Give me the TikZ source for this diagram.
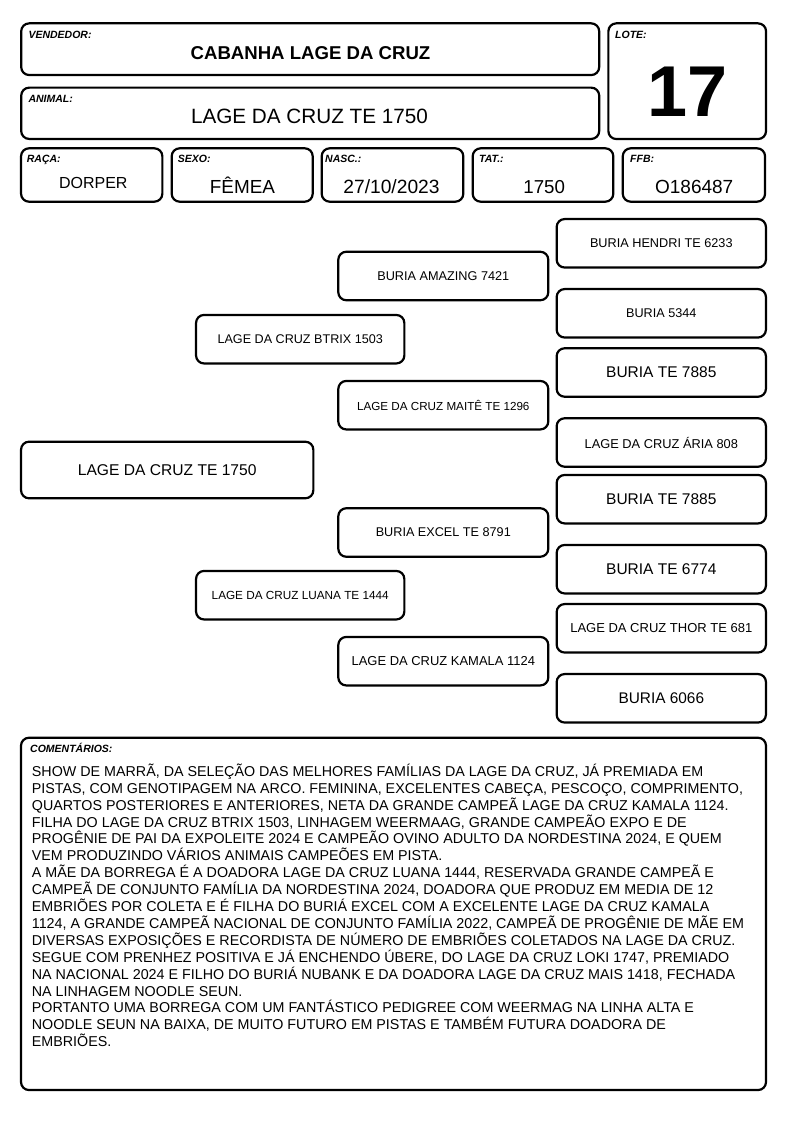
\documentclass[tikz,border=0pt]{standalone}
\usepackage{fontspec}
\setmainfont{Liberation Sans}
\newcommand{\fsz}[1]{\fontsize{#1}{#1}\selectfont}

\begin{document}
\begin{tikzpicture}[x=1pt,y=-1pt,
		frame/.style={draw,line width=2.2pt,rounded corners=8pt,inner sep=0pt,outer sep=0pt},
		ped/.style={frame,minimum height=48.5pt},
		tag/.style={anchor=base west,inner sep=0pt,font=\bfseries\itshape\fsz{10.5}},
		val/.style={anchor=base,inner sep=0pt}]
		\useasboundingbox (0,0) rectangle (794,1123);
		% header
		\node[frame,minimum width=578pt,minimum height=51.7pt] (vend) at (310.2,49.2) {};
		\node[frame,minimum width=578pt,minimum height=51.3pt] (anim) at (310.2,113.3) {};
		\node[frame,minimum width=157.7pt,minimum height=115.7pt] (lote) at (687.2,81.2) {};
		\node[tag] (tvend) at (28.3,39) {VENDEDOR:};
		\node[tag] (tanim) at (28.3,102.5) {ANIMAL:};
		\node[tag] (tlote) at (615,39) {LOTE:};
		\node[val,font=\bfseries\fsz{18.6}] (vvend) at (310.5,60) {CABANHA LAGE DA CRUZ};
		\node[val,font=\fsz{20.7}] (vanim) at (309.5,123.3) {LAGE DA CRUZ TE 1750};
		\node[val,font=\bfseries\fsz{72}] (vlote) at (687.5,116.7) {17};
		% dados
		\node[frame,minimum width=141.3pt,minimum height=53.4pt] (raca) at (91.7,175) {};
		\node[frame,minimum width=141pt,minimum height=53.4pt] (sexo) at (242.2,175) {};
		\node[frame,minimum width=141.6pt,minimum height=53.4pt] (nasc) at (392.5,175) {};
		\node[frame,minimum width=140.6pt,minimum height=53.4pt] (tat) at (543,175) {};
		\node[frame,minimum width=142.3pt,minimum height=53.4pt] (ffb) at (693.9,175) {};
		\node[tag] (traca) at (26.7,162.7) {RAÇA:};
		\node[tag] (tsexo) at (177.7,162.7) {SEXO:};
		\node[tag] (tnasc) at (325,162.7) {NASC.:};
		\node[tag] (ttat) at (479,162.7) {TAT.:};
		\node[tag] (tffb) at (630,162.7) {FFB:};
		\node[val,font=\fsz{16}] (vraca) at (93.3,188.3) {DORPER};
		\node[val,font=\fsz{18.9}] (vsexo) at (242.5,193.3) {FÊMEA};
		\node[val,font=\fsz{19.2}] (vnasc) at (391.5,193.3) {27/10/2023};
		\node[val,font=\fsz{18.7}] (vtat) at (544.2,193.3) {1750};
		\node[val,font=\fsz{19}] (vffb) at (694.2,193.3) {O186487};
		% pedigree
		\node[ped,minimum width=292.3pt,minimum height=56.6pt,font=\fsz{15.6}] (anim0) at (167.2,470) {LAGE DA CRUZ TE 1750};
		\node[ped,minimum width=208.3pt,font=\fsz{12.6}] (sire) at (300.2,339.2) {LAGE DA CRUZ BTRIX 1503};
		\node[ped,minimum width=208.3pt,font=\fsz{11.75}] (dam) at (300.2,595.2) {LAGE DA CRUZ LUANA TE 1444};
		\node[ped,minimum width=210pt,font=\fsz{12.7}] (ss) at (443.3,276) {BURIA AMAZING 7421};
		\node[ped,minimum width=210pt,font=\fsz{11.66}] (sd) at (443.3,405.2) {LAGE DA CRUZ MAITÊ TE 1296};
		\node[ped,minimum width=210pt,font=\fsz{12.65}] (ds) at (443.3,532.5) {BURIA EXCEL TE 8791};
		\node[ped,minimum width=210pt,font=\fsz{12.96}] (dd) at (443.3,661.2) {LAGE DA CRUZ KAMALA 1124};
		\node[ped,minimum width=209.3pt,font=\fsz{12.7}] (sss) at (661.3,243.3) {BURIA HENDRI TE 6233};
		\node[ped,minimum width=209.3pt,font=\fsz{12.65}] (ssd) at (661.3,313.3) {BURIA 5344};
		\node[ped,minimum width=209.3pt,font=\fsz{15.5}] (sds) at (661.3,372.5) {BURIA TE 7885};
		\node[ped,minimum width=209.3pt,font=\fsz{12.83}] (sdd) at (661.3,442.5) {LAGE DA CRUZ ÁRIA 808};
		\node[ped,minimum width=209.3pt,font=\fsz{15.5}] (dss) at (661.3,499.2) {BURIA TE 7885};
		\node[ped,minimum width=209.3pt,font=\fsz{15.5}] (dsd) at (661.3,569.2) {BURIA TE 6774};
		\node[ped,minimum width=209.3pt,font=\fsz{13}] (dds) at (661.3,628.3) {LAGE DA CRUZ THOR TE 681};
		\node[ped,minimum width=209.3pt,font=\fsz{15.4}] (ddd) at (661.3,698.3) {BURIA 6066};
		% comentarios (base = ultima linha)
		\node[frame,minimum width=745pt,minimum height=352.3pt] (coment) at (393.5,913.9) {};
		\node[tag] (tcoment) at (30,752.3) {COMENTÁRIOS:};
		\node[anchor=base west,inner sep=0pt,align=left,font=\fontsize{14.3}{16.9}\selectfont] (vcoment) at (31.7,1046.7)
		{SHOW DE MARRÃ, DA SELEÇÃO DAS MELHORES FAMÍLIAS DA LAGE DA CRUZ, JÁ PREMIADA EM\\
		PISTAS, COM GENOTIPAGEM NA ARCO. FEMININA, EXCELENTES CABEÇA, PESCOÇO, COMPRIMENTO,\\
		QUARTOS POSTERIORES E ANTERIORES, NETA DA GRANDE CAMPEÃ LAGE DA CRUZ KAMALA 1124.\\
		FILHA DO LAGE DA CRUZ BTRIX 1503, LINHAGEM WEERMAAG, GRANDE CAMPEÃO EXPO E DE\\
		PROGÊNIE DE PAI DA EXPOLEITE 2024 E CAMPEÃO OVINO ADULTO DA NORDESTINA 2024, E QUEM\\
		VEM PRODUZINDO VÁRIOS ANIMAIS CAMPEÕES EM PISTA.\\
		A MÃE DA BORREGA É A DOADORA LAGE DA CRUZ LUANA 1444, RESERVADA GRANDE CAMPEÃ E\\
		CAMPEÃ DE CONJUNTO FAMÍLIA DA NORDESTINA 2024, DOADORA QUE PRODUZ EM MEDIA DE 12\\
		EMBRIÕES POR COLETA E É FILHA DO BURIÁ EXCEL COM A EXCELENTE LAGE DA CRUZ KAMALA\\
		1124, A GRANDE CAMPEÃ NACIONAL DE CONJUNTO FAMÍLIA 2022, CAMPEÃ DE PROGÊNIE DE MÃE EM\\
		DIVERSAS EXPOSIÇÕES E RECORDISTA DE NÚMERO DE EMBRIÕES COLETADOS NA LAGE DA CRUZ.\\
		SEGUE COM PRENHEZ POSITIVA E JÁ ENCHENDO ÚBERE, DO LAGE DA CRUZ LOKI 1747, PREMIADO\\
		NA NACIONAL 2024 E FILHO DO BURIÁ NUBANK E DA DOADORA LAGE DA CRUZ MAIS 1418, FECHADA\\
		NA LINHAGEM NOODLE SEUN.\\
		PORTANTO UMA BORREGA COM UM FANTÁSTICO PEDIGREE COM WEERMAG NA LINHA ALTA E\\
		NOODLE SEUN NA BAIXA, DE MUITO FUTURO EM PISTAS E TAMBÉM FUTURA DOADORA DE\\
		EMBRIÕES.};
	\end{tikzpicture}
\end{document}
